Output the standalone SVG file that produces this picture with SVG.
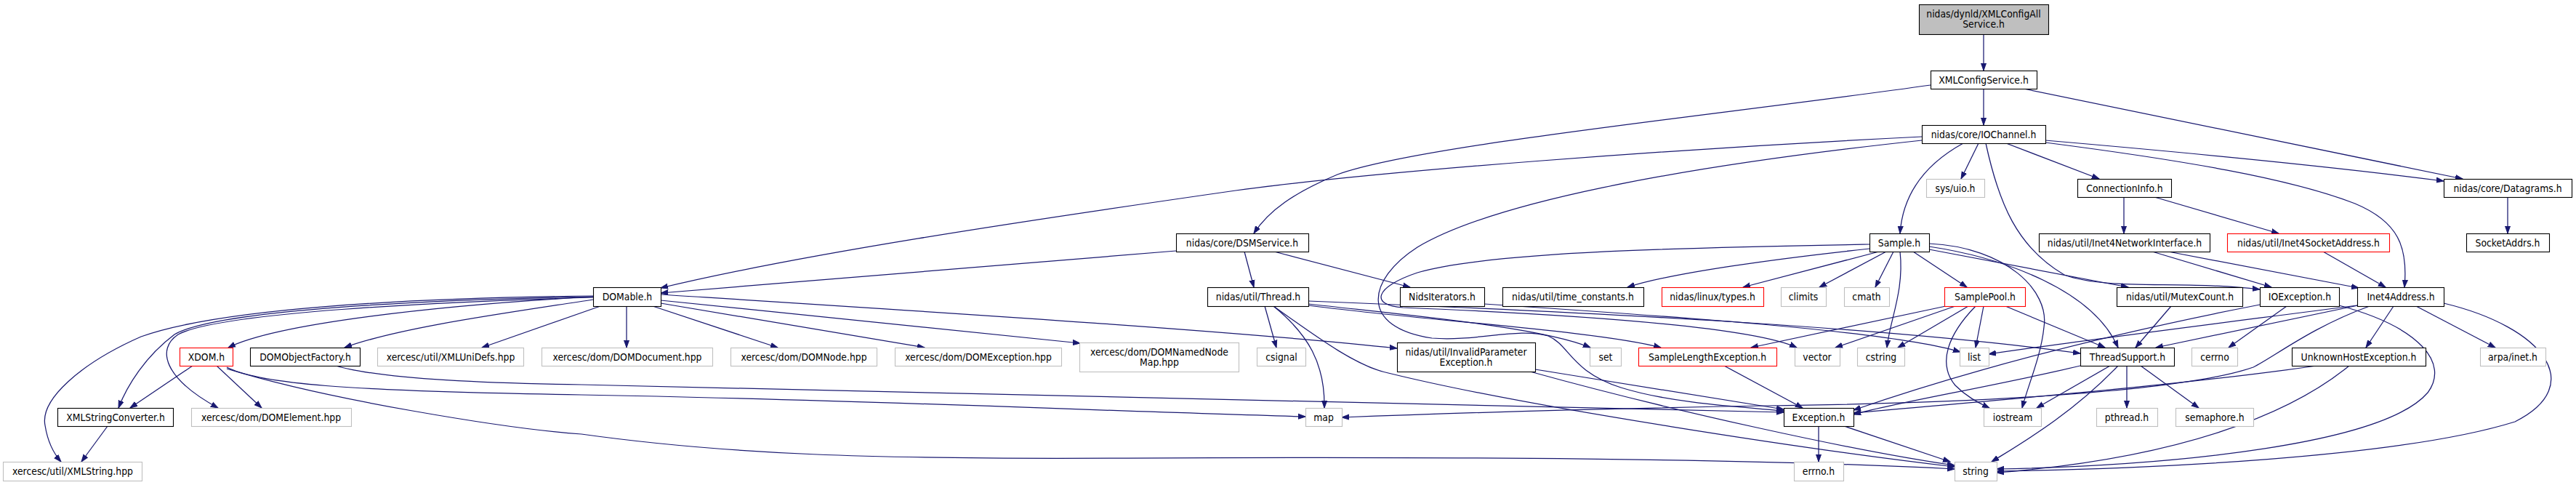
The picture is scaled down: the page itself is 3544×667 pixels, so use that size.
<svg xmlns="http://www.w3.org/2000/svg" width="3544" height="667" viewBox="0 0 3544 667">
<defs>
<style>
.n rect{fill:#fff;stroke:#000;stroke-width:1.1}
.g rect{stroke:#bfbfbf}
.r rect{stroke:#ff0000}
.root rect{fill:#bfbfbf}
text{font-family:'DejaVu Sans Condensed','DejaVu Sans',sans-serif;font-stretch:condensed;font-size:13.8px;text-anchor:middle;fill:#000}
#edges path{fill:none;stroke:#191970;stroke-width:1.25;marker-end:url(#a)}
</style>
<marker id="a" markerWidth="11" markerHeight="9" refX="10" refY="4.5" orient="auto" markerUnits="userSpaceOnUse"><path d="M0,1 L10,4.5 L0,8 z" fill="#191970" stroke="#191970" stroke-width="1"/></marker>
</defs>
<rect width="3544" height="667" fill="#fff"/>
<g id="edges">
<path d="M2729,47 L2729,97"/>
<path d="M2729,122 L2729,172"/>
<path d="M2656,117 C2350,160 1950,200 1840,240 C1780,265 1745,290 1725,321"/>
<path d="M2784,122 L3388,246"/>
<path d="M2644,188 C2300,205 1900,235 1700,262 C1400,305 1100,350 909,396"/>
<path d="M2701,197 C2650,225 2618,265 2614,321"/>
<path d="M2722,197 L2698,246"/>
<path d="M2760,197 L2888,246"/>
<path d="M2814,193 C3000,209 3200,228 3362,249"/>
<path d="M2814,196 C3000,220 3150,245 3240,280 C3300,305 3313,340 3308,395"/>
<path d="M2732,197 C2750,280 2775,340 2840,378 C2900,400 3000,385 3109,398"/>
<path d="M2644,193 C2300,230 2050,280 1950,340 C1880,385 1870,450 1970,465 C2030,470 2090,450 2130,462 C2160,475 2160,510 2230,533 C2300,555 2400,560 2454,565"/>
<path d="M1618,345 L909,403"/>
<path d="M1712,346 L1725,395"/>
<path d="M1753,346 L1940,395"/>
<path d="M2922,271 L2922,321"/>
<path d="M2964,271 L3135,321"/>
<path d="M3450,271 L3450,321"/>
<path d="M2961,346 L3125,395"/>
<path d="M2983,346 L3245,396"/>
<path d="M3196,346 L3282,395"/>
<path d="M2572,342 C2450,355 2300,375 2239,395"/>
<path d="M2585,346 L2398,395"/>
<path d="M2595,346 L2503,395"/>
<path d="M2605,346 L2580,395"/>
<path d="M2614,346 C2620,400 2600,440 2596,478"/>
<path d="M2632,346 L2706,395"/>
<path d="M2654,343 L2928,395"/>
<path d="M2654,339 C2760,355 2880,400 2914,478"/>
<path d="M2654,335 C2760,340 2820,400 2812,450 C2808,490 2790,530 2782,561"/>
<path d="M2572,336 C2350,340 2050,345 1950,375 C1890,395 1885,420 1930,423 C2100,430 2400,445 2472,478"/>
<path d="M2042,418 C2300,435 2600,455 2697,484"/>
<path d="M1800,414 C2200,430 2600,450 2862,486"/>
<path d="M1800,418 C1950,435 2120,450 2188,478"/>
<path d="M1800,420 C1950,440 2200,455 2285,478"/>
<path d="M1740,421 L1756,478"/>
<path d="M1752,421 C1800,460 1823,500 1822,561"/>
<path d="M1752,421 C1820,470 1870,505 1910,513 C2100,560 2500,620 2689,642"/>
<path d="M909,405 C1300,430 1700,455 1922,479"/>
<path d="M909,413 L1486,472"/>
<path d="M909,417 L1272,478"/>
<path d="M898,421 L1070,478"/>
<path d="M862,421 L862,478"/>
<path d="M826,421 L663,478"/>
<path d="M816,412 C700,430 550,450 474,478"/>
<path d="M816,408 C600,420 380,445 314,478"/>
<path d="M816,409 C600,415 300,430 245,460 C215,480 225,520 300,561"/>
<path d="M816,408 C600,412 300,425 240,460 C200,490 175,530 163,561"/>
<path d="M816,407 C550,410 300,425 194,463 C110,500 55,550 62,585 C66,610 75,625 84,635"/>
<path d="M265,503 L179,561"/>
<path d="M298,503 L360,561"/>
<path d="M312,505 C360,530 500,538 800,543 C1200,550 1500,565 1796,573"/>
<path d="M312,507 C450,550 700,590 800,597 C1000,625 1200,632 1550,630 C2000,628 2400,630 2689,645"/>
<path d="M462,503 C520,520 650,527 800,529 C1400,545 2000,560 2454,567"/>
<path d="M148,586 L112,635"/>
<path d="M2112,508 C2250,530 2400,555 2454,563"/>
<path d="M2105,511 C2300,565 2550,620 2689,640"/>
<path d="M2372,503 L2480,561"/>
<path d="M2677,421 L2409,478"/>
<path d="M2690,421 L2525,478"/>
<path d="M2708,421 L2611,478"/>
<path d="M2729,421 L2718,478"/>
<path d="M2718,421 C2680,460 2665,500 2690,530 C2705,545 2720,553 2737,561"/>
<path d="M2759,421 L2896,478"/>
<path d="M2987,421 L2938,478"/>
<path d="M3244,420 L2966,478"/>
<path d="M3146,421 L3066,478"/>
<path d="M3109,419 C2950,450 2750,495 2550,564"/>
<path d="M3218,420 C3330,450 3370,500 3340,540 C3280,610 3000,640 2747,645"/>
<path d="M3293,421 L3255,478"/>
<path d="M3324,421 L3433,478"/>
<path d="M3362,417 C3500,450 3560,530 3460,580 C3300,630 2950,645 2747,648"/>
<path d="M3243,420 C3050,445 2850,470 2736,487"/>
<path d="M3260,421 C3180,450 3130,490 3100,505 C3000,540 2700,555 2430,558 C2200,562 2000,568 1846,574"/>
<path d="M3187,503 C3000,530 2750,550 2550,568"/>
<path d="M3232,503 C3150,570 3000,630 2747,650"/>
<path d="M2862,503 C2750,530 2600,555 2550,570"/>
<path d="M2903,503 L2802,561"/>
<path d="M2914,503 C2850,570 2780,610 2740,635"/>
<path d="M2926,503 L2926,561"/>
<path d="M2945,503 L3025,561"/>
<path d="M2502,586 L2502,635"/>
<path d="M2537,586 L2683,635"/>
</g>
<g id="n-root" class="n root"><rect x="2640.5" y="6.5" width="178" height="41"/><text x="2729" y="24">nidas/dynld/XMLConfigAll</text><text x="2729" y="38">Service.h</text></g>
<g id="n-xmlcs" class="n"><rect x="2656.5" y="97.5" width="146" height="25"/><text x="2729" y="114.5">XMLConfigService.h</text></g>
<g id="n-ioch" class="n"><rect x="2644.5" y="172.5" width="170" height="25"/><text x="2729" y="189.5">nidas/core/IOChannel.h</text></g>
<g id="n-uio" class="n g"><rect x="2650.5" y="246.5" width="80" height="25"/><text x="2690" y="263.5">sys/uio.h</text></g>
<g id="n-conn" class="n"><rect x="2858.5" y="246.5" width="129" height="25"/><text x="2923" y="263.5">ConnectionInfo.h</text></g>
<g id="n-dgram" class="n"><rect x="3362.5" y="246.5" width="176" height="25"/><text x="3450" y="263.5">nidas/core/Datagrams.h</text></g>
<g id="n-dsm" class="n"><rect x="1618.5" y="321.5" width="182" height="25"/><text x="1709" y="338.5">nidas/core/DSMService.h</text></g>
<g id="n-sample" class="n"><rect x="2572.5" y="321.5" width="82" height="25"/><text x="2613" y="338.5">Sample.h</text></g>
<g id="n-inif" class="n"><rect x="2805.5" y="321.5" width="235" height="25"/><text x="2923" y="338.5">nidas/util/Inet4NetworkInterface.h</text></g>
<g id="n-isock" class="n r"><rect x="3064.5" y="321.5" width="223" height="25"/><text x="3176" y="338.5">nidas/util/Inet4SocketAddress.h</text></g>
<g id="n-sockaddrs" class="n"><rect x="3393.5" y="321.5" width="114" height="25"/><text x="3450" y="338.5">SocketAddrs.h</text></g>
<g id="n-domable" class="n"><rect x="816.5" y="395.5" width="93" height="26"/><text x="863" y="413">DOMable.h</text></g>
<g id="n-thread" class="n"><rect x="1661.5" y="395.5" width="139" height="26"/><text x="1731" y="413">nidas/util/Thread.h</text></g>
<g id="n-nids" class="n"><rect x="1926.5" y="395.5" width="116" height="26"/><text x="1984" y="413">NidsIterators.h</text></g>
<g id="n-timec" class="n"><rect x="2067.5" y="395.5" width="194" height="26"/><text x="2164" y="413">nidas/util/time_constants.h</text></g>
<g id="n-ltypes" class="n r"><rect x="2286.5" y="395.5" width="140" height="26"/><text x="2356" y="413">nidas/linux/types.h</text></g>
<g id="n-climits" class="n g"><rect x="2450.5" y="395.5" width="62" height="26"/><text x="2481" y="413">climits</text></g>
<g id="n-cmath" class="n g"><rect x="2537.5" y="395.5" width="62" height="26"/><text x="2568" y="413">cmath</text></g>
<g id="n-spool" class="n r"><rect x="2675.5" y="395.5" width="111" height="26"/><text x="2731" y="413">SamplePool.h</text></g>
<g id="n-mutex" class="n"><rect x="2912.5" y="395.5" width="173" height="26"/><text x="2999" y="413">nidas/util/MutexCount.h</text></g>
<g id="n-ioexc" class="n"><rect x="3109.5" y="395.5" width="109" height="26"/><text x="3164" y="413">IOException.h</text></g>
<g id="n-inet4" class="n"><rect x="3243.5" y="395.5" width="119" height="26"/><text x="3303" y="413">Inet4Address.h</text></g>
<g id="n-xdom" class="n r"><rect x="247.5" y="478.5" width="73" height="25"/><text x="284" y="495.5">XDOM.h</text></g>
<g id="n-domof" class="n"><rect x="344.5" y="478.5" width="151" height="25"/><text x="420" y="495.5">DOMObjectFactory.h</text></g>
<g id="n-unidefs" class="n g"><rect x="519.5" y="478.5" width="201" height="25"/><text x="620" y="495.5">xercesc/util/XMLUniDefs.hpp</text></g>
<g id="n-domdoc" class="n g"><rect x="745.5" y="478.5" width="235" height="25"/><text x="863" y="495.5">xercesc/dom/DOMDocument.hpp</text></g>
<g id="n-domnode" class="n g"><rect x="1005.5" y="478.5" width="201" height="25"/><text x="1106" y="495.5">xercesc/dom/DOMNode.hpp</text></g>
<g id="n-domexc" class="n g"><rect x="1231.5" y="478.5" width="229" height="25"/><text x="1346" y="495.5">xercesc/dom/DOMException.hpp</text></g>
<g id="n-domnnm" class="n g"><rect x="1485.5" y="471.5" width="219" height="40"/><text x="1595" y="488.5">xercesc/dom/DOMNamedNode</text><text x="1595" y="502.5">Map.hpp</text></g>
<g id="n-csignal" class="n g"><rect x="1729.5" y="478.5" width="67" height="25"/><text x="1763" y="495.5">csignal</text></g>
<g id="n-invparam" class="n"><rect x="1922.5" y="471.5" width="190" height="40"/><text x="2017" y="488.5">nidas/util/InvalidParameter</text><text x="2017" y="502.5">Exception.h</text></g>
<g id="n-set" class="n g"><rect x="2187.5" y="478.5" width="43" height="25"/><text x="2209" y="495.5">set</text></g>
<g id="n-slexc" class="n r"><rect x="2254.5" y="478.5" width="190" height="25"/><text x="2349" y="495.5">SampleLengthException.h</text></g>
<g id="n-vector" class="n g"><rect x="2469.5" y="478.5" width="62" height="25"/><text x="2500" y="495.5">vector</text></g>
<g id="n-cstring" class="n g"><rect x="2555.5" y="478.5" width="65" height="25"/><text x="2588" y="495.5">cstring</text></g>
<g id="n-list" class="n g"><rect x="2696.5" y="478.5" width="40" height="25"/><text x="2716" y="495.5">list</text></g>
<g id="n-tsupp" class="n"><rect x="2862.5" y="478.5" width="129" height="25"/><text x="2927" y="495.5">ThreadSupport.h</text></g>
<g id="n-cerrno" class="n g"><rect x="3015.5" y="478.5" width="63" height="25"/><text x="3047" y="495.5">cerrno</text></g>
<g id="n-unkhost" class="n"><rect x="3153.5" y="478.5" width="184" height="25"/><text x="3245" y="495.5">UnknownHostException.h</text></g>
<g id="n-arpa" class="n g"><rect x="3412.5" y="478.5" width="90" height="25"/><text x="3457" y="495.5">arpa/inet.h</text></g>
<g id="n-xmlsc" class="n"><rect x="79.5" y="561.5" width="159" height="25"/><text x="159" y="578.5">XMLStringConverter.h</text></g>
<g id="n-domel" class="n g"><rect x="263.5" y="561.5" width="220" height="25"/><text x="373" y="578.5">xercesc/dom/DOMElement.hpp</text></g>
<g id="n-map" class="n g"><rect x="1796.5" y="561.5" width="50" height="25"/><text x="1821" y="578.5">map</text></g>
<g id="n-exc" class="n"><rect x="2454.5" y="561.5" width="96" height="25"/><text x="2502" y="578.5">Exception.h</text></g>
<g id="n-iostream" class="n g"><rect x="2729.5" y="561.5" width="79" height="25"/><text x="2769" y="578.5">iostream</text></g>
<g id="n-pthread" class="n g"><rect x="2884.5" y="561.5" width="84" height="25"/><text x="2926" y="578.5">pthread.h</text></g>
<g id="n-sema" class="n g"><rect x="2993.5" y="561.5" width="107" height="25"/><text x="3047" y="578.5">semaphore.h</text></g>
<g id="n-xmlstr" class="n g"><rect x="4.5" y="635.5" width="191" height="26"/><text x="100" y="653">xercesc/util/XMLString.hpp</text></g>
<g id="n-errno" class="n g"><rect x="2468.5" y="635.5" width="68" height="26"/><text x="2502" y="653">errno.h</text></g>
<g id="n-string" class="n g"><rect x="2689.5" y="635.5" width="58" height="26"/><text x="2718" y="653">string</text></g>
</svg>
